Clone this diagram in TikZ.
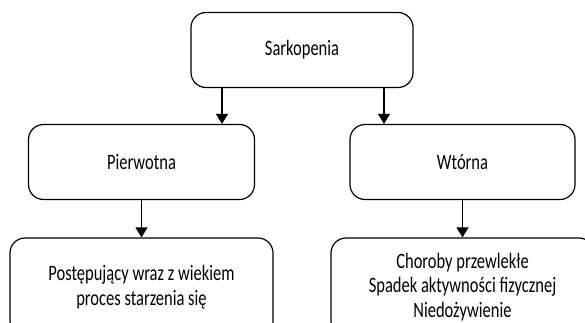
\documentclass[tikz,border=0pt]{standalone}
\usepackage{fontspec}
\setmainfont{Carlito}[FakeStretch=0.75]
\usetikzlibrary{arrows.meta}

\begin{document}
\begin{tikzpicture}[x=1pt,y=1pt,
  box/.style={rectangle,rounded corners=15pt,draw,line width=1.2pt,align=center,
    minimum height=75pt,font=\fontsize{22}{24.5}\selectfont},
  level distance=112pt,
  level 1/.style={sibling distance=321pt},
  level 2/.style={level distance=125pt},
  edge from parent/.style={draw,line width=1.2pt,-{Triangle[width=12pt,length=10pt]}}]
  \useasboundingbox (0,0) rectangle (585,-323);
  \node[box,minimum width=222pt] (sark) at (302,-50) {Sarkopenia}
   child[edge from parent path={([xshift=-80pt]\tikzparentnode.south)
    	  -- ([xshift=-80pt]\tikzparentnode.south |- \tikzchildnode.north)}]
   {
    	node[box,minimum width=226pt] (pier) {Pierwotna}
    	child[edge from parent path={(\tikzparentnode.south) -- (\tikzchildnode.north)}]
    	{
    		node[box,minimum width=263pt,minimum height=98pt] (post)
    		{Postępujący wraz z wiekiem\\proces starzenia się}
    	}
   }
   child[edge from parent path={([xshift=82pt]\tikzparentnode.south)
    	  -- ([xshift=82pt]\tikzparentnode.south |- \tikzchildnode.north)}]
   {
    	node[box,minimum width=225pt] (wtor) {Wtórna}
    	child[edge from parent path={(\tikzparentnode.south) -- (\tikzchildnode.north)}]
    	{
    		node[box,minimum width=263pt,minimum height=98pt] (chor)
    		{Choroby przewlekłe\\Spadek aktywności fizycznej\\Niedożywienie}
    	}
   };
\end{tikzpicture}
\end{document}
